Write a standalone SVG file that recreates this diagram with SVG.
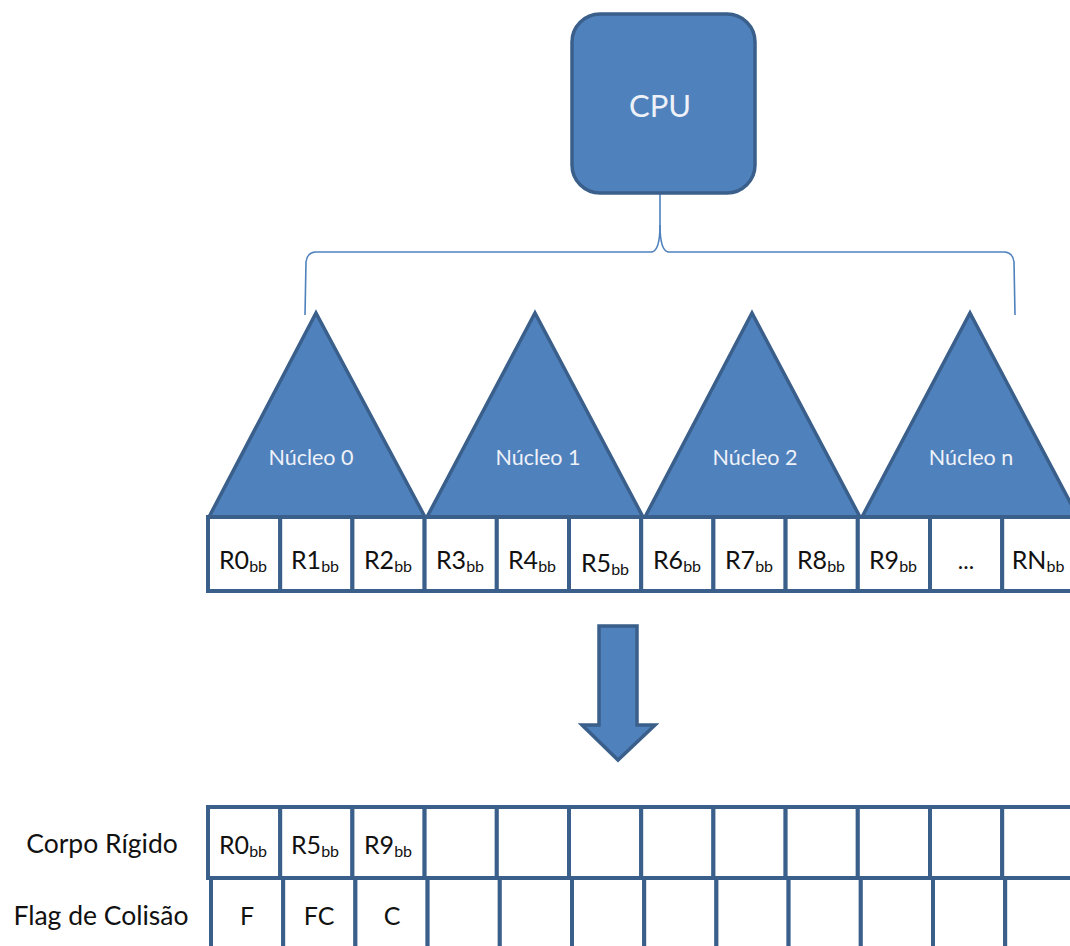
<svg xmlns="http://www.w3.org/2000/svg" width="1070" height="946" viewBox="0 0 1070 946">
<style>
.shape{fill:#4F81BD;stroke:#3A5F8B;stroke-width:3.5;stroke-linejoin:miter}
.cell{fill:#FFFFFF;stroke:#3A5F8B;stroke-width:4}
.t{font-family:Lato,"Open Sans",sans-serif;fill:#111111;text-anchor:middle}
.w{font-family:Lato,"Open Sans",sans-serif;fill:#EEF2F8;text-anchor:middle}
.brace{fill:none;stroke:#4F81BD;stroke-width:1.6}
</style>
<rect width="1070" height="946" fill="#FFFFFF"/>
<g id="connectors">
<path class="brace" d="M660,194 L660,225 Q660,250 652,252 L315,252 Q307,253 306,262 L305,315"/>
<path class="brace" d="M660,225 Q660,250 668,252 L1005,252 Q1013,253 1014,262 L1015,315"/>
<path id="arrow" class="shape" d="M599,626 L637,626 L637,725 L655,725 L618,760 L582,725 L599,725 Z"/>
</g>
<g id="cpu">
<rect class="shape" x="572" y="14" width="183" height="179" rx="28" ry="28"/>
<text class="w" x="660" y="117" font-size="31" fill="#FFFFFF">CPU</text>
</g>
<g id="nucleo0">
<polygon class="shape" points="316,313 425,517 209,517"/>
<text class="w" x="311" y="465" font-size="21.5">Núcleo 0</text>
</g>
<g id="nucleo1">
<polygon class="shape" points="535,313 643,517 427,517"/>
<text class="w" x="538" y="465" font-size="21.5">Núcleo 1</text>
</g>
<g id="nucleo2">
<polygon class="shape" points="752,313 860,517 645,517"/>
<text class="w" x="755" y="465" font-size="21.5">Núcleo 2</text>
</g>
<g id="nucleon">
<polygon class="shape" points="970,313 1078,517 862,517"/>
<text class="w" x="971" y="465" font-size="21.5">Núcleo n</text>
</g>
<g id="row-bb">
<rect class="cell" x="208" y="517" width="72.2" height="74"/>
<rect class="cell" x="280.2" y="517" width="72.2" height="74"/>
<rect class="cell" x="352.4" y="517" width="72.2" height="74"/>
<rect class="cell" x="424.6" y="517" width="72.2" height="74"/>
<rect class="cell" x="496.8" y="517" width="72.2" height="74"/>
<rect class="cell" x="569" y="517" width="72.2" height="74"/>
<rect class="cell" x="641.2" y="517" width="72.2" height="74"/>
<rect class="cell" x="713.4" y="517" width="72.2" height="74"/>
<rect class="cell" x="785.6" y="517" width="72.2" height="74"/>
<rect class="cell" x="857.8" y="517" width="72.2" height="74"/>
<rect class="cell" x="930" y="517" width="72.2" height="74"/>
<rect class="cell" x="1002.2" y="517" width="72.2" height="74"/>
<text class="t" x="243" y="569" font-size="25">R0<tspan font-size="16" dy="3">bb</tspan></text>
<text class="t" x="315" y="569" font-size="25">R1<tspan font-size="16" dy="3">bb</tspan></text>
<text class="t" x="388" y="569" font-size="25">R2<tspan font-size="16" dy="3">bb</tspan></text>
<text class="t" x="460" y="569" font-size="25">R3<tspan font-size="16" dy="3">bb</tspan></text>
<text class="t" x="532" y="569" font-size="25">R4<tspan font-size="16" dy="3">bb</tspan></text>
<text class="t" x="605" y="572" font-size="25">R5<tspan font-size="16" dy="3">bb</tspan></text>
<text class="t" x="677" y="569" font-size="25">R6<tspan font-size="16" dy="3">bb</tspan></text>
<text class="t" x="749" y="569" font-size="25">R7<tspan font-size="16" dy="3">bb</tspan></text>
<text class="t" x="821" y="569" font-size="25">R8<tspan font-size="16" dy="3">bb</tspan></text>
<text class="t" x="893" y="569" font-size="25">R9<tspan font-size="16" dy="3">bb</tspan></text>
<text class="t" x="966" y="569" font-size="23">...</text>
<text class="t" x="1038" y="569" font-size="25">RN<tspan font-size="16" dy="3">bb</tspan></text>
</g>
<g id="table-corpo">
<rect class="cell" x="208" y="807" width="72.2" height="71"/>
<rect class="cell" x="280.2" y="807" width="72.2" height="71"/>
<rect class="cell" x="352.4" y="807" width="72.2" height="71"/>
<rect class="cell" x="424.6" y="807" width="72.2" height="71"/>
<rect class="cell" x="496.8" y="807" width="72.2" height="71"/>
<rect class="cell" x="569" y="807" width="72.2" height="71"/>
<rect class="cell" x="641.2" y="807" width="72.2" height="71"/>
<rect class="cell" x="713.4" y="807" width="72.2" height="71"/>
<rect class="cell" x="785.6" y="807" width="72.2" height="71"/>
<rect class="cell" x="857.8" y="807" width="72.2" height="71"/>
<rect class="cell" x="930" y="807" width="72.2" height="71"/>
<rect class="cell" x="1002.2" y="807" width="72.2" height="71"/>
<text class="t" x="243" y="854" font-size="25">R0<tspan font-size="16" dy="3">bb</tspan></text>
<text class="t" x="315" y="854" font-size="25">R5<tspan font-size="16" dy="3">bb</tspan></text>
<text class="t" x="388" y="854" font-size="25">R9<tspan font-size="16" dy="3">bb</tspan></text>
<text class="t" x="102" y="853" font-size="26.5">Corpo Rígido</text>
</g>
<g id="table-flag">
<rect class="cell" x="211" y="878" width="72.2" height="75"/>
<rect class="cell" x="283.2" y="878" width="72.2" height="75"/>
<rect class="cell" x="355.4" y="878" width="72.2" height="75"/>
<rect class="cell" x="427.6" y="878" width="72.2" height="75"/>
<rect class="cell" x="499.8" y="878" width="72.2" height="75"/>
<rect class="cell" x="572" y="878" width="72.2" height="75"/>
<rect class="cell" x="644.2" y="878" width="72.2" height="75"/>
<rect class="cell" x="716.4" y="878" width="72.2" height="75"/>
<rect class="cell" x="788.6" y="878" width="72.2" height="75"/>
<rect class="cell" x="860.8" y="878" width="72.2" height="75"/>
<rect class="cell" x="933" y="878" width="72.2" height="75"/>
<rect class="cell" x="1005.2" y="878" width="72.2" height="75"/>
<text class="t" x="247" y="925" font-size="25">F</text>
<text class="t" x="319" y="925" font-size="25">FC</text>
<text class="t" x="392" y="925" font-size="25">C</text>
<text class="t" x="101" y="925" font-size="26.5">Flag de Colisão</text>
</g>
</svg>
